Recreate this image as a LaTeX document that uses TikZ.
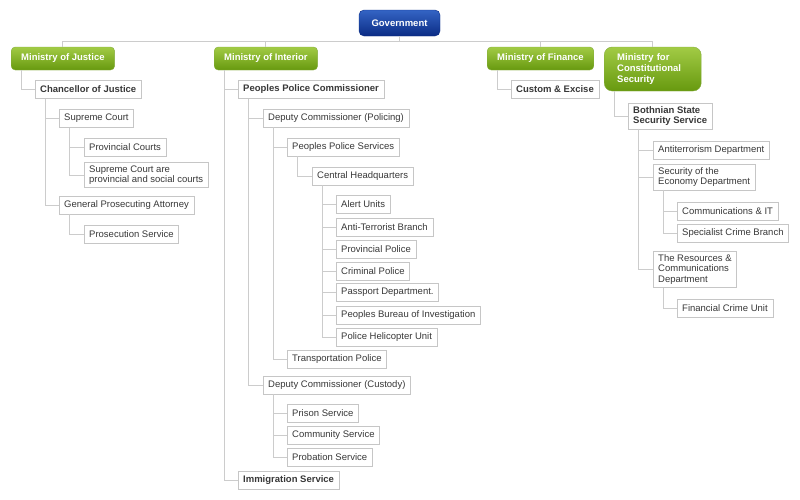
\documentclass[tikz,border=0pt]{standalone}
\usepackage{fontspec}
\setmainfont{Liberation Sans}
\usepackage{tikz}
\usetikzlibrary{shapes,arrows,calc,positioning,shadows}
\definecolor{lineg}{HTML}{CCCCCC}
\definecolor{boxg}{HTML}{C6C6C6}
\definecolor{txtg}{HTML}{383838}
\definecolor{grtop}{HTML}{A2CB45}
\definecolor{grbot}{HTML}{67990F}
\definecolor{bltop}{HTML}{3464C4}
\definecolor{blbot}{HTML}{0B2C85}
\tikzset{leaf/.style={draw=boxg, fill=white, anchor=west, align=left, inner xsep=5pt, inner ysep=3pt, minimum height=18pt, text=txtg, font=\fontsize{9.5}{10.6}\selectfont, drop shadow={opacity=0.12, shadow xshift=0.8pt, shadow yshift=-0.8pt}}}
\tikzstyle{bleaf}=[leaf, font=\fontsize{9.5}{10.6}\selectfont\bfseries]
\tikzstyle{mini}=[anchor=west, rounded corners=4pt, top color=grtop, bottom color=grbot, draw=grbot!80, text=white, align=left, inner xsep=10pt, minimum height=23pt, font=\fontsize{9.5}{10.7}\selectfont\bfseries]
\tikzstyle{conn}=[draw=lineg, line width=0.9pt]

\begin{document}
\begin{tikzpicture}[x=1pt, y=-1pt]
\useasboundingbox (0,0) rectangle (800,499);
\node[rounded corners=5pt, top color=bltop, bottom color=blbot, draw=blbot, text=white, minimum width=81pt, minimum height=26pt, font=\fontsize{9.5}{10.6}\selectfont\bfseries] (gov) at (399.5,23) {Government};
\node[mini] (mj) at (11,58.5) {Ministry of Justice};
\node[mini] (mi) at (214,58.5) {Ministry of Interior};
\node[mini] (mf) at (487,58.5) {Ministry of Finance};
\node[mini, rounded corners=8pt, text width=71pt, inner xsep=13pt, minimum height=44pt] (mc) at (604,69) {Ministry for\\Constitutional\\Security};
\node[bleaf] (chanc) at (35,89.5) {Chancellor of Justice};
\node[leaf] (sc) at (59,118.5) {Supreme Court};
\node[leaf] (pc) at (84,147.5) {Provincial Courts};
\node[leaf] (sca) at (84,175) {Supreme Court are\\provincial and social courts};
\node[leaf] (gpa) at (59,205) {General Prosecuting Attorney};
\node[leaf] (ps) at (84,234) {Prosecution Service};
\node[bleaf] (ppc) at (238,89.5) {Peoples Police Commissioner};
\node[leaf] (dcp) at (263,118) {Deputy Commissioner (Policing)};
\node[leaf] (pps) at (287,147) {Peoples Police Services};
\node[leaf] (chq) at (312,176) {Central Headquarters};
\node[leaf] (au) at (336,204.5) {Alert Units};
\node[leaf] (atb) at (336,227) {Anti-Terrorist Branch};
\node[leaf] (pp) at (336,249) {Provincial Police};
\node[leaf] (cp) at (336,271) {Criminal Police};
\node[leaf] (pd) at (336,292.5) {Passport Department.};
\node[leaf] (pbi) at (336,315) {Peoples Bureau of Investigation};
\node[leaf] (phu) at (336,337) {Police Helicopter Unit};
\node[leaf] (tp) at (287,359) {Transportation Police};
\node[leaf] (dcc) at (263,385) {Deputy Commissioner (Custody)};
\node[leaf] (prs) at (287,413.5) {Prison Service};
\node[leaf] (cs) at (287,435.5) {Community Service};
\node[leaf] (pbs) at (287,457.5) {Probation Service};
\node[bleaf] (is) at (238,480) {Immigration Service};
\node[bleaf] (ce) at (511,89.5) {Custom \& Excise};
\node[bleaf] (bsss) at (628,116) {Bothnian State\\Security Service};
\node[leaf] (atd) at (653,150) {Antiterrorism Department};
\node[leaf] (sed) at (653,177) {Security of the\\Economy Department};
\node[leaf] (cit) at (677,211) {Communications \& IT};
\node[leaf] (scb) at (677,233.5) {Specialist Crime Branch};
\node[leaf] (rcd) at (653,269.5) {The Resources \&\\Communications\\Department};
\node[leaf] (fcu) at (677,308.5) {Financial Crime Unit};
\foreach \m in {mj,mi,mf,mc}
  \draw[conn] (gov.south) -- ++(0,5) -| (\m.north);
\foreach \p/\c in {mj/chanc, chanc/sc, chanc/gpa, sc/pc, sc/sca, gpa/ps,
                   mi/ppc, mi/is, ppc/dcp, ppc/dcc, dcp/pps, dcp/tp, pps/chq,
                   chq/au, chq/atb, chq/pp, chq/cp, chq/pd, chq/pbi, chq/phu,
                   dcc/prs, dcc/cs, dcc/pbs, mf/ce, mc/bsss,
                   bsss/atd, bsss/sed, bsss/rcd, sed/cit, sed/scb, rcd/fcu}
  \draw[conn] ([xshift=10pt]\p.south west) |- (\c.west);
\end{tikzpicture}
\end{document}
